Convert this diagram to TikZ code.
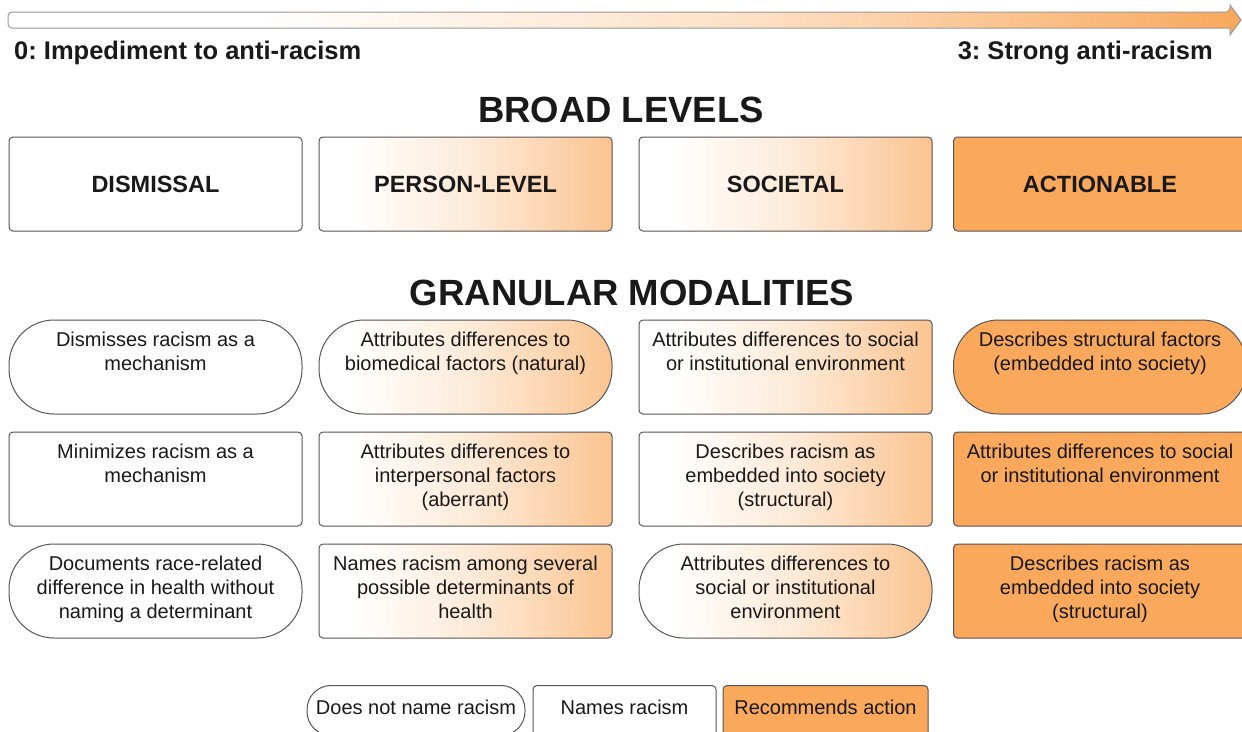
\documentclass[tikz,border=0pt]{standalone}
\usepackage{fontspec}
\setmainfont{Liberation Sans}
\usetikzlibrary{shapes}
\frenchspacing

\definecolor{boxline}{RGB}{85,85,85}
\definecolor{actfill}{RGB}{249,168,92}
\pgfdeclarehorizontalshading{fadeorange}{100bp}{color(0bp)=(white); color(25bp)=(white); color(31bp)=(white); color(52bp)=(actfill!25); color(75bp)=(actfill!68); color(100bp)=(actfill!68)}
\pgfdeclarehorizontalshading{scaleorange}{100bp}{color(0bp)=(white); color(25bp)=(white); color(35bp)=(white); color(55bp)=(actfill!35); color(75bp)=(actfill); color(100bp)=(actfill)}

\newcommand{\cellbox}[1]{\parbox[c][70pt][t]{282pt}{\centering #1}}

\begin{document}
\begin{tikzpicture}[x = 1pt, y = -1pt]
	\tikzstyle{plainBox} = [draw = boxline, line width = 1pt, rounded corners = 4pt, minimum width = 293pt, minimum height = 94pt, inner sep = 0pt, font = \fontsize{20}{24}\selectfont, text = black!90]
	\tikzstyle{pillBox} = [plainBox, rounded corners = 45pt]
	\tikzstyle{fadeBox} = [shading = fadeorange]
	\tikzstyle{actBox} = [fill = actfill]
	\tikzstyle{levelStyle} = [plainBox, font = \fontsize{23.5}{28}\selectfont\bfseries]
	\tikzstyle{headStyle} = [font = \fontsize{36.5}{40}\selectfont\bfseries, text = black!90]
	\tikzstyle{endStyle} = [font = \fontsize{25.5}{28}\selectfont\bfseries, text = black!90, inner sep = 0pt]
	\tikzstyle{keyBox} = [draw = boxline, line width = 1pt, rounded corners = 4pt, anchor = north, inner xsep = 0pt, inner ysep = 14pt, text height = 15pt, text depth = 25pt, font = \fontsize{20}{24}\selectfont, text = black!90]
	\useasboundingbox (0,0) rectangle (1242,731);
	\clip (0,0) rectangle (1242,731);
	% scale arrow
	\shade[shading = scaleorange, draw = black!40, line width = 1pt, rounded corners = 4pt] (8,12) -- (1230,12) [sharp corners] -- (1230,5) -- (1241,20) -- (1230,35) -- (1230,28) [rounded corners = 4pt] -- (8,28) -- cycle;
	\node[endStyle, anchor = west] (low) at (14,53) {0: Impediment to anti-racism};
	\node[endStyle, anchor = east] (high) at (1213,53) {3: Strong anti-racism};
	% broad levels
	\node[headStyle] (broad) at (621,110) {BROAD LEVELS};
	\node[levelStyle] (dismissal) at (155.5,184) {DISMISSAL};
	\node[levelStyle, fadeBox] (person) at (465.5,184) {PERSON-LEVEL};
	\node[levelStyle, fadeBox] (societal) at (785.5,184) {SOCIETAL};
	\node[levelStyle, actBox] (actionable) at (1100,184) {ACTIONABLE};
	% granular modalities
	\node[headStyle] (granular) at (632,293) {GRANULAR MODALITIES};
	\node[pillBox] (d1) at (155.5,367) {\cellbox{Dismisses racism as a\\ mechanism}};
	\node[plainBox] (d2) at (155.5,479) {\cellbox{Minimizes racism as a\\ mechanism}};
	\node[pillBox] (d3) at (155.5,591) {\cellbox{Documents race-related\\ difference in health without\\ naming a determinant}};
	\node[pillBox, fadeBox] (p1) at (465.5,367) {\cellbox{Attributes differences to\\ biomedical factors (natural)}};
	\node[plainBox, fadeBox] (p2) at (465.5,479) {\cellbox{Attributes differences to\\ interpersonal factors\\ (aberrant)}};
	\node[plainBox, fadeBox] (p3) at (465.5,591) {\cellbox{Names racism among several\\ possible determinants of\\ health}};
	\node[plainBox, fadeBox] (s1) at (785.5,367) {\cellbox{Attributes differences to social\\ or institutional environment}};
	\node[plainBox, fadeBox] (s2) at (785.5,479) {\cellbox{Describes racism as\\ embedded into society\\ (structural)}};
	\node[pillBox, fadeBox] (s3) at (785.5,591) {\cellbox{Attributes differences to\\ social or institutional\\ environment}};
	\node[pillBox, actBox] (a1) at (1100,367) {\cellbox{Describes structural factors\\ (embedded into society)}};
	\node[plainBox, actBox] (a2) at (1100,479) {\cellbox{Attributes differences to social\\ or institutional environment}};
	\node[plainBox, actBox] (a3) at (1100,591) {\cellbox{Describes racism as\\ embedded into society\\ (structural)}};
	% key
	\node[keyBox, rounded corners = 24pt, text depth = 7pt, minimum width = 218pt] (keyNone) at (416,685) {Does not name racism};
	\node[keyBox, minimum width = 183pt] (keyNames) at (624.5,685) {Names racism};
	\node[keyBox, actBox, minimum width = 205pt] (keyAction) at (825.5,685) {Recommends action};
\end{tikzpicture}
\end{document}
